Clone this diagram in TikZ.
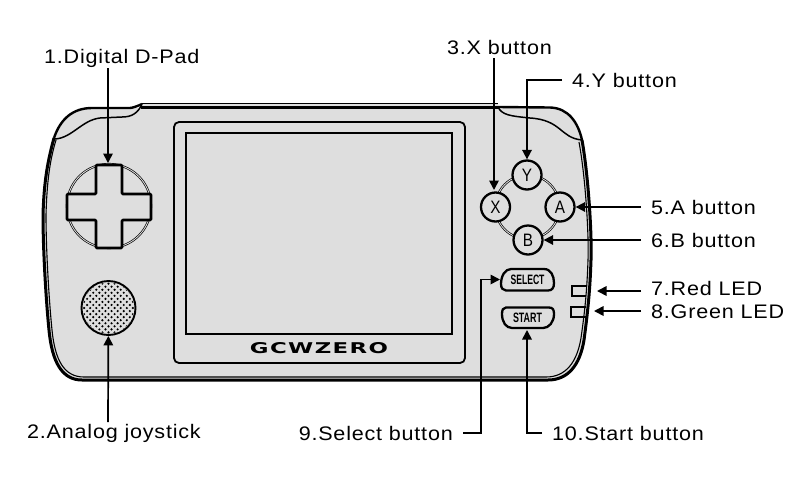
\documentclass[tikz,border=0pt]{standalone}
\usepackage{fontspec}
\setmainfont{Liberation Sans}
\newfontfamily\lblfont[LetterSpace=4,FakeStretch=1.1]{Liberation Sans}
\newfontfamily\logofont[LetterSpace=6]{DejaVu Sans}
\usetikzlibrary{arrows.meta,patterns}
\definecolor{body}{HTML}{DEDEDE}
\newcommand{\btnlab}[1]{\scalebox{.85}[1]{#1}}
\tikzset{
 x=1pt,y=-1pt,
 arr/.style={draw=black,line width=1.7pt,-{Triangle[length=9.5pt,width=9.5pt]}},
 lbl/.style={font=\lblfont\fontsize{19.6}{21}\selectfont,inner xsep=10pt,inner ysep=0pt,text=black,anchor=west},
 btn/.style={circle,draw=black,line width=2.3pt,fill=body,minimum size=29pt,inner sep=0pt,font=\fontsize{18}{19}\selectfont},
 ringline/.style={draw=black,line width=2.2pt,postaction={draw=body!70!white,line width=.8pt}},
 pill/.style={draw=black,line width=2.3pt,fill=body},
 tiny/.style={inner sep=0pt,font=\bfseries},
}
\begin{document}
\begin{tikzpicture}
\useasboundingbox (0,0) rectangle (800,480);
% body fill
\fill[body] (142,104) -- (498,104) -- (498,107) -- (550,107.5) .. controls (568,108) and (578,122) .. (582,140)
 .. controls (589,180) and (592,240) .. (591,260) .. controls (590,290) and (588,310) .. (584,340)
 .. controls (580,365) and (568,380) .. (548,380) -- (82,380)
 .. controls (62,380) and (52,362) .. (49,330) .. controls (46,300) and (43,250) .. (43,215)
 .. controls (44,180) and (48,160) .. (54,138) .. controls (60,120) and (72,108) .. (92,108) -- (140,108) -- cycle;
% top
\draw[line width=1.2pt] (142,103.5) -- (498,103.5);
\draw[line width=2.4pt] (141,107.5) -- (498,107.5);
% shoulders
\draw[line width=2.4pt] (142,104) .. controls (138,106) and (132,108) .. (130,108) -- (92,108) .. controls (72,108) and (60,120) .. (54,138);
\draw[line width=1.5pt] (142,104) .. controls (138,113) and (132,117) .. (122,117) -- (100,118) .. controls (82,120) and (72,138) .. (55,139);
\draw[line width=2.4pt] (498,107) -- (550,107.5) .. controls (568,108) and (578,122) .. (582,140);
\draw[line width=1.5pt] (498,107) .. controls (502,115) and (510,116) .. (530,118) .. controls (562,120) and (560,138) .. (582,140);
% sides outer
\draw[line width=3pt] (582,140) .. controls (589,180) and (592,240) .. (591,260) .. controls (590,290) and (588,310) .. (584,340)
 .. controls (580,365) and (568,380) .. (548,380) -- (82,380)
 .. controls (62,380) and (52,362) .. (49,330) .. controls (46,300) and (43,250) .. (43,215)
 .. controls (44,180) and (48,160) .. (54,138);
% sides inner
\draw[line width=1.1pt] (579,142) .. controls (586,180) and (589,240) .. (588,260) .. controls (587,290) and (585,310) .. (581,338)
 .. controls (577,362) and (566,377) .. (546,377) -- (84,377)
 .. controls (64,377) and (55,360) .. (52,330) .. controls (49,300) and (46,250) .. (46,215)
 .. controls (47,180) and (50,160) .. (56,140);
% bezel and screen
\draw[line width=1.8pt,rounded corners=5pt] (174,122) rectangle (465,363);
\draw[line width=1.8pt] (186,133) rectangle (452,334);
\node[inner sep=0pt] (logo) at (319,348.5) {\resizebox{138pt}{11pt}{\logofont\bfseries GCWZERO}};
% d-pad
\draw[ringline] (109,206) circle (42);
\draw[line width=2.7pt,fill=body,line join=round,rounded corners=1pt] (96,165) -- (122,165) -- (122,194) -- (151,194) -- (151,220) -- (122,220) -- (122,248) -- (96,248) -- (96,220) -- (67,220) -- (67,194) -- (96,194) -- cycle;
\coordinate (dpadtop) at (108,163);
% joystick
\node[circle,draw=black,line width=1.9pt,minimum size=54pt,inner sep=0pt] (stick) at (108.5,308) {};
\begin{scope}
\clip (108.5,308) circle (25.5);
\foreach \i in {-6,...,6}{\foreach \j in {-6,...,6}{
  \fill[black] ({108.5+(\i+\j)*3.05},{308+(\i-\j)*3.05}) circle (1.2);
}}
\end{scope}
% ABXY
\draw[ringline] (527.5,207) circle (32);
\node[btn] (Y) at (527,175) {\btnlab{Y}};
\node[btn] (X) at (495.5,207) {\btnlab{X}};
\node[btn] (A) at (560,207) {\btnlab{A}};
\node[btn] (B) at (528,240) {\btnlab{B}};
% select, start
\draw[pill] (511,269) -- (544,269) .. controls (551,269) and (554,276) .. (554,283) .. controls (554,288) and (552,290.5) .. (548,290.5) -- (506,290.5) .. controls (503,290.5) and (501,288) .. (501,284) .. controls (501,276) and (505,269) .. (511,269) -- cycle;
\node[tiny] (selectlab) at (527.5,280) {\resizebox{34pt}{9.5pt}{SELECT}};
\draw[pill] (506,307.5) -- (549,307.5) .. controls (553,307.5) and (554,310) .. (554,314) .. controls (554,322) and (549,328) .. (543,328) -- (512,328) .. controls (506,328) and (502,322) .. (502,314) .. controls (502,310) and (503,307.5) .. (506,307.5) -- cycle;
\node[tiny] (startlab) at (527.5,317.5) {\resizebox{29pt}{9.5pt}{START}};
\coordinate (selectw) at (500,279.5);
\coordinate (startb) at (527,330);
% LEDs
\draw[line width=1.4pt] (586,286) -- (572,286) -- (572,296) -- (586,296);
\draw[line width=1.4pt] (586,307) -- (571,307) -- (571,317) -- (586,317);
\coordinate (led1) at (597,291);
\coordinate (led2) at (594,311);
% labels
\node[lbl,inner xsep=0pt] (l1) at (44,58) {1.Digital D-Pad};
\node[lbl,inner xsep=0pt] (l2) at (27,433) {2.Analog joystick};
\node[lbl,inner xsep=0pt] (l3) at (447,47) {3.X button};
\node[lbl] (l4) at (562,80) {4.Y button};
\node[lbl] (l5) at (641,207) {5.A button};
\node[lbl] (l6) at (641,240) {6.B button};
\node[lbl] (l7) at (641,288) {7.Red LED};
\node[lbl] (l8) at (641,312) {8.Green LED};
\node[lbl,anchor=east] (l9) at (463,433) {9.Select button};
\node[lbl] (l10) at (542,433) {10.Start button};
% connectors
\coordinate (c1) at (108,68);
\coordinate (c2) at (108,422);
\coordinate (c3) at (494,58);
\draw[arr] (c1) -- (dpadtop);
\draw[arr] (c2) -- (stick);
\draw[arr] (c3) -- (494,190);
\draw[arr] (l4.west) -- (527,80) -- (Y);
\draw[arr] (l5.west) -- (A);
\draw[arr] (l6.west) -- (B);
\draw[arr] (l7.west |- led1) -- (led1);
\draw[arr] (l8.west |- led2) -- (led2);
\draw[arr] (l9.east) -- (481,433) -- (481,279.5) -- (selectw);
\draw[arr] (l10.west) -- (527,433) -- (startb);
\end{tikzpicture}
\end{document}
